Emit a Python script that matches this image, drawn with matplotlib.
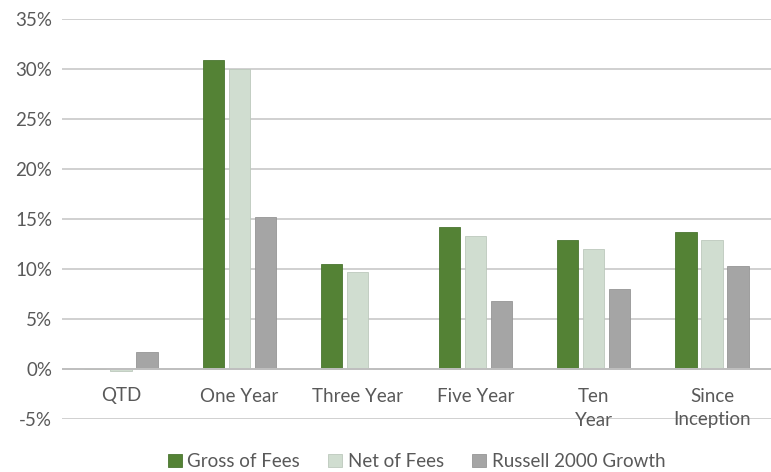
import matplotlib.pyplot as plt
import numpy as np

# Returns (%)
periods = ["QTD", "One Year", "Three Year", "Five Year", "Ten\nYear", "Since\nInception"]
gross_of_fees = [0.0, 30.9, 10.5, 14.2, 12.9, 13.7]
net_of_fees = [-0.2, 30.0, 9.7, 13.3, 12.0, 12.9]
russell_2000_growth = [1.7, 15.2, 0.0, 6.8, 8.0, 10.3]
series_names = ["Gross of Fees", "Net of Fees", "Russell 2000 Growth"]
y_ticks = [-5, 0, 5, 10, 15, 20, 25, 30, 35]

plt.rcParams['font.family'] = ['Lato', 'DejaVu Sans']
text_color = "#595959"
colors = ["#548235", "#D0DDD0", "#A5A5A5"]
edges = ["#4A7530", "#BCC9BC", "#969696"]

fig = plt.figure(figsize=(7.71, 4.72), dpi=100)
ax = fig.add_axes([62 / 771, 1 - 419 / 472, 709 / 771, 400 / 472])

x = np.arange(len(periods))
width = 0.18
step = 0.22
for i, (vals, name) in enumerate(zip([gross_of_fees, net_of_fees, russell_2000_growth], series_names)):
    ax.bar(x + (i - 1) * step, vals, width, color=colors[i], edgecolor=edges[i],
           linewidth=0.6, label=name, zorder=3)

ax.set_xlim(-0.5, len(periods) - 0.5)
ax.set_ylim(-5, 35)
ax.set_yticks(y_ticks)
ax.set_yticklabels([f"{t}%" for t in y_ticks], fontsize=13.5, color=text_color)
ax.tick_params(axis='y', length=0, pad=7)
ax.set_xticks([])
ax.grid(axis='y', color="#D0D0D0", linewidth=1.4, zorder=0)
ax.axhline(0, color="#BFBFBF", linewidth=1.4, zorder=4)
for s in ax.spines.values():
    s.set_visible(False)

# category labels sit just below the zero line
for xi, lab in zip(x, periods):
    ax.text(xi, -1.85, lab, ha='center', va='top', fontsize=13.5, color=text_color,
            linespacing=1.5)

ax.legend(loc='upper center', bbox_to_anchor=(0.5, -0.043), ncol=3, frameon=False,
          fontsize=13.5, labelcolor=text_color, handlelength=0.75, handleheight=0.75,
          handletextpad=0.3, columnspacing=1.5)

fig.savefig("out.png", dpi=100)
